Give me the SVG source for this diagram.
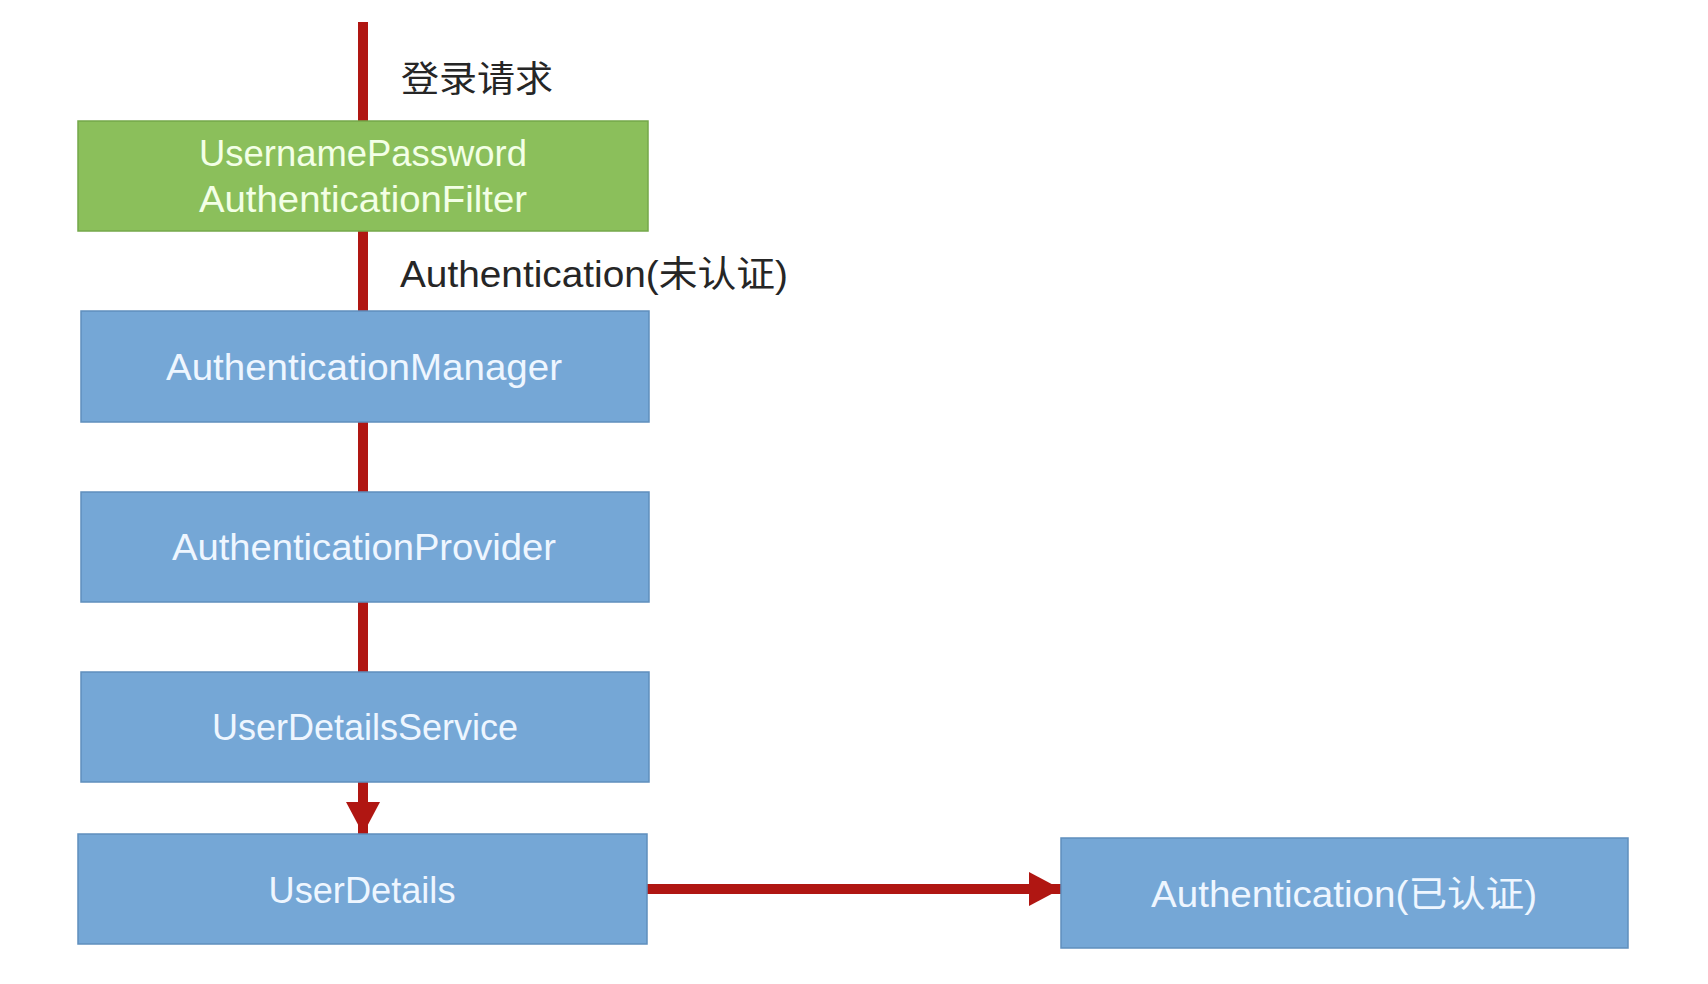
<svg xmlns="http://www.w3.org/2000/svg" width="1708" height="984" viewBox="0 0 1708 984">
<defs>
<style>
.box{fill:#75a7d6;stroke:#5f8fbd;stroke-width:1.5}
.green{fill:#8bbf5b;stroke:#74a84a;stroke-width:1.5}
.t{font-family:"Liberation Sans","Noto Sans CJK SC",sans-serif;font-size:36px;text-anchor:middle;fill:#eef6ff}
.tg{fill:#f3ffe6}
.lbl{font-family:"Liberation Sans","Noto Sans CJK SC",sans-serif;font-size:36px;fill:#262626}
.cn{stroke:#b01612;stroke-width:10;fill:none}
</style>
<marker id="ah" markerUnits="userSpaceOnUse" markerWidth="34" markerHeight="34" refX="32" refY="17" orient="auto">
<path d="M0,0 L32,17 L0,34 Z" fill="#b01612"/>
</marker>
</defs>
<rect width="1708" height="984" fill="#ffffff"/>
<g id="connectors">
<line class="cn" x1="363" y1="22" x2="363" y2="121"/>
<line class="cn" x1="363" y1="231" x2="363" y2="311"/>
<line class="cn" x1="363" y1="422" x2="363" y2="492"/>
<line class="cn" x1="363" y1="602" x2="363" y2="672"/>
<line class="cn" x1="363" y1="782" x2="363" y2="834" marker-end="url(#ah)"/>
<line class="cn" x1="647" y1="889" x2="1061" y2="889" marker-end="url(#ah)"/>
</g>
<g id="label-login">
<text class="lbl" x="401" y="92" textLength="152" lengthAdjust="spacingAndGlyphs">登录请求</text>
</g>
<g id="label-unauth">
<text class="lbl" x="400" y="287" textLength="388" lengthAdjust="spacingAndGlyphs">Authentication(未认证)</text>
</g>
<g id="filter">
<rect class="green" x="78" y="121" width="570" height="110"/>
<text class="t tg" x="363" y="166" textLength="328" lengthAdjust="spacingAndGlyphs">UsernamePassword</text>
<text class="t tg" x="363" y="212" textLength="328" lengthAdjust="spacingAndGlyphs">AuthenticationFilter</text>
</g>
<g id="manager">
<rect class="box" x="81" y="311" width="568" height="111"/>
<text class="t" x="364" y="380" textLength="396" lengthAdjust="spacingAndGlyphs">AuthenticationManager</text>
</g>
<g id="provider">
<rect class="box" x="81" y="492" width="568" height="110"/>
<text class="t" x="364" y="560" textLength="384" lengthAdjust="spacingAndGlyphs">AuthenticationProvider</text>
</g>
<g id="uds">
<rect class="box" x="81" y="672" width="568" height="110"/>
<text class="t" x="365" y="740" textLength="306" lengthAdjust="spacingAndGlyphs">UserDetailsService</text>
</g>
<g id="userdetails">
<rect class="box" x="78" y="834" width="569" height="110"/>
<text class="t" x="362" y="903" textLength="187" lengthAdjust="spacingAndGlyphs">UserDetails</text>
</g>
<g id="auth-done">
<rect class="box" x="1061" y="838" width="567" height="110"/>
<text class="t" x="1344" y="907" textLength="386" lengthAdjust="spacingAndGlyphs">Authentication(已认证)</text>
</g>
</svg>
